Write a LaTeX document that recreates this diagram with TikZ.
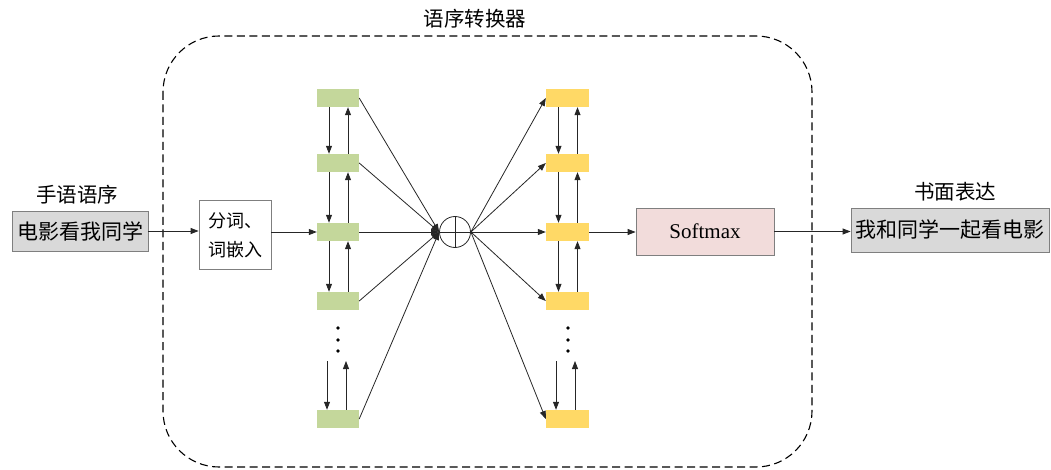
\documentclass[tikz,border=0pt]{standalone}
\usepackage{fontspec}
\setmainfont{Liberation Serif}
\newfontfamily\cjk{Noto Sans CJK SC}
\usetikzlibrary{arrows.meta}
\definecolor{gfill}{HTML}{C4D79B}
\definecolor{yfill}{HTML}{FFD966}
\definecolor{boxgray}{HTML}{D9D9D9}
\definecolor{pinkfill}{HTML}{F2DCDB}
\definecolor{edgegray}{HTML}{7F7F7F}
\tikzset{
  arr/.style={draw=black!85, line width=0.8pt, -{Triangle[length=8pt,width=6pt]}},
  ln/.style={draw=black!85, line width=0.8pt},
  gblk/.style={fill=gfill, draw=none, minimum width=42pt, minimum height=18pt, inner sep=0pt},
  yblk/.style={fill=yfill, draw=none, minimum width=43pt, minimum height=18pt, inner sep=0pt},
  graybox/.style={fill=boxgray, draw=edgegray, line width=0.8pt, inner sep=0pt, font=\cjk\fontsize{21}{24}\selectfont},
  lbl/.style={font=\cjk\fontsize{20.5}{24}\selectfont, inner sep=0pt},
  dot/.style={circle, fill=black, inner sep=0pt, minimum size=3.6pt}
}
\begin{document}
\begin{tikzpicture}[x=1pt, y=-1pt]
\useasboundingbox (0,0) rectangle (1051,470);

% converter frame
\draw[line width=1.1pt, dash pattern=on 8pt off 4.5pt, rounded corners=56pt]
  (163,36) rectangle (812,467);
\node[lbl] (title) at (475,19) {语序转换器};

% input sentence
\node[graybox, minimum width=136pt, minimum height=40pt] (src) at (80,231) {电影看我同学};
\node[lbl] (srclbl) at (77,195) {手语语序};

% tokenisation and embedding
\node[draw=edgegray, fill=white, line width=0.8pt, minimum width=72pt, minimum height=69pt,
      align=center, inner sep=0pt, font=\cjk\fontsize{18}{29}\selectfont] (emb) at (235,235) {分词、\\词嵌入};

% encoder column
\node[gblk] (g1) at (338,98) {};
\node[gblk] (g2) at (338,163) {};
\node[gblk] (g3) at (338,232) {};
\node[gblk] (g4) at (338,301) {};
\node[gblk] (g5) at (338,419) {};

% decoder column
\node[yblk] (y1) at (567.5,98) {};
\node[yblk] (y2) at (567.5,163) {};
\node[yblk] (y3) at (567.5,232) {};
\node[yblk] (y4) at (567.5,301) {};
\node[yblk] (y5) at (567.5,419) {};

% combining node
\node[circle, draw=black!85, line width=0.8pt, minimum size=31pt, inner sep=0pt] (sum) at (455,232) {};
\draw[ln] (sum.north) -- (sum.south);
\draw[ln] (sum.west) -- (sum.east);

% softmax and output
\node[fill=pinkfill, draw=edgegray, line width=0.8pt, minimum width=138pt, minimum height=47pt,
      inner sep=0pt, font=\fontsize{21}{24}\selectfont] (soft) at (705,231.5) {Softmax};
\node[graybox, minimum width=198pt, minimum height=44pt] (tgt) at (950,230) {我和同学一起看电影};
\node[lbl] (tgtlbl) at (955,192) {书面表达};

% main flow
\draw[arr] (src.east) -- (emb.west |- src.east);
\draw[arr] (emb.east |- g3.west) -- (g3.west);
\draw[arr] (y3.east) -- (soft.west |- y3.east);
\draw[arr] (soft.east) -- (tgt.west |- soft.east);

% vertical links between neighbouring blocks
\foreach \a/\b in {g1/g2, g2/g3, g3/g4, y1/y2, y2/y3, y3/y4} {
  \draw[arr] ([xshift=-9pt]\a.south) -- ([xshift=-9pt]\b.north);
  \draw[arr] ([xshift=10pt]\b.north) -- ([xshift=10pt]\a.south);
}

% ellipsis and the last links
\coordinate (gdtop) at (327,361);
\coordinate (gutop) at (346,361);
\coordinate (ydtop) at (556,361);
\coordinate (yutop) at (575,361);
\draw[arr] (gdtop) -- (gdtop |- g5.north);
\draw[arr] (gutop |- g5.north) -- (gutop);
\draw[arr] (ydtop) -- (ydtop |- y5.north);
\draw[arr] (yutop |- y5.north) -- (yutop);
\node[dot] (gd1) at (338,328) {};
\node[dot] (gd2) at (338,340) {};
\node[dot] (gd3) at (338,351) {};
\node[dot] (yd1) at (568,328) {};
\node[dot] (yd2) at (568,340) {};
\node[dot] (yd3) at (568,351) {};

% encoder outputs to the combining node
\foreach \g in {g1,g2,g3,g4,g5} {
  \draw[arr] (\g.east) -- (sum.west);
}
% combining node to decoder inputs
\foreach \y in {y1,y2,y3,y4,y5} {
  \draw[arr] (sum.east) -- (\y.west);
}
\end{tikzpicture}
\end{document}
